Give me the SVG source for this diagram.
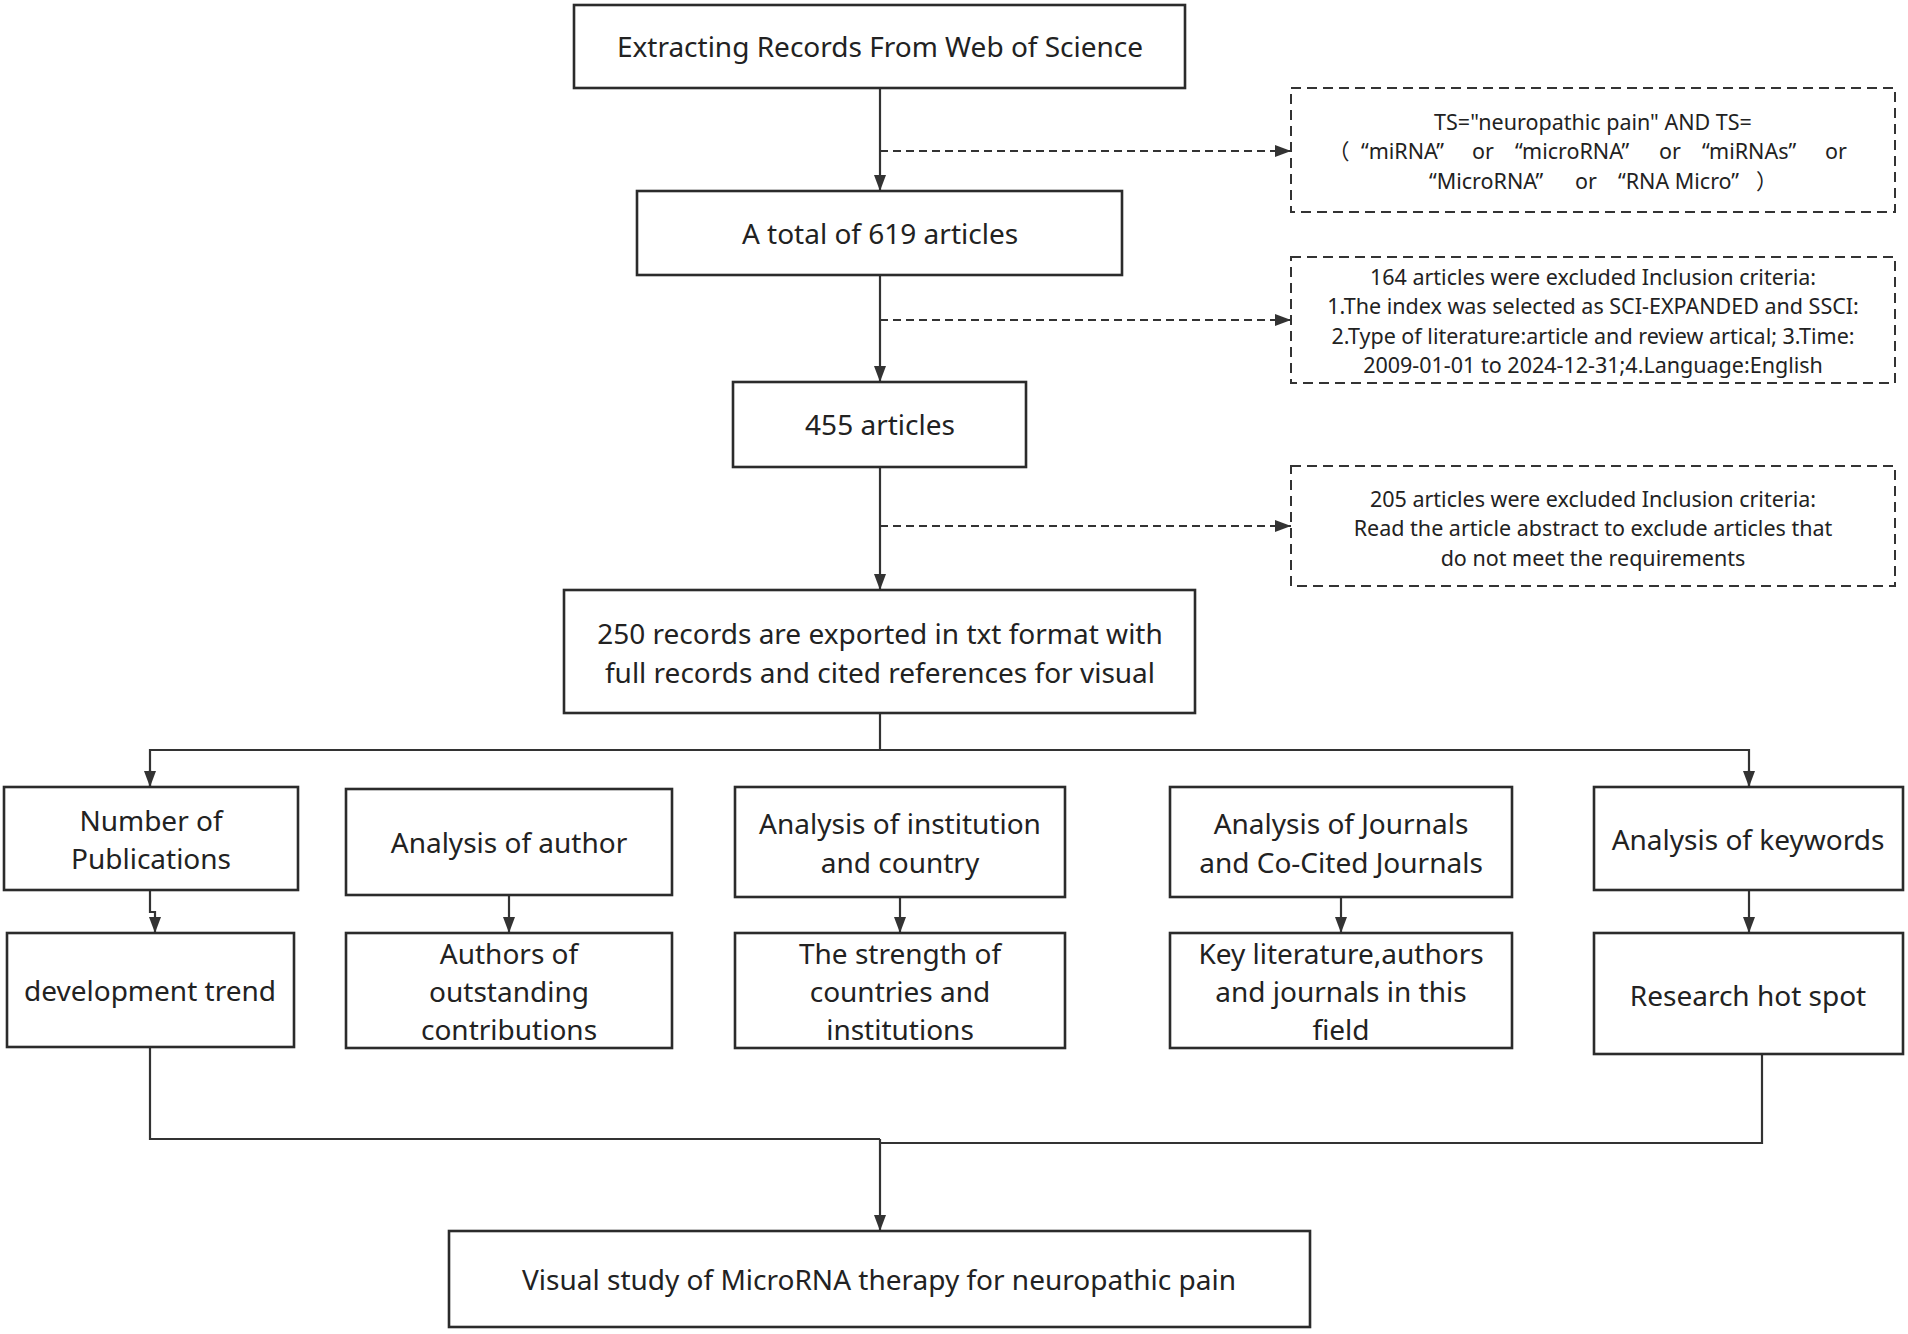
<svg xmlns="http://www.w3.org/2000/svg" width="1908" height="1334" viewBox="0 0 1908 1334">
<style>
.box{fill:#fff;stroke:#2b2b2b;stroke-width:2.6}
.dbox{fill:#fff;stroke:#333;stroke-width:2;stroke-dasharray:10 6}
.t{font-family:"Noto Sans","Open Sans","Liberation Sans",sans-serif;font-size:28px;fill:#222;text-anchor:middle;dominant-baseline:central}
.s{font-family:"Noto Sans","Open Sans","Liberation Sans","Noto Sans CJK SC",sans-serif;font-size:21.5px;fill:#222;text-anchor:middle;dominant-baseline:central}
.l{text-anchor:start}
.c{fill:none;stroke:#333;stroke-width:2.2}
.dc{fill:none;stroke:#333;stroke-width:2;stroke-dasharray:8 5}
</style>
<defs>
<marker id="ah" viewBox="0 0 16 12" refX="16" refY="6" markerWidth="16" markerHeight="12" markerUnits="userSpaceOnUse" orient="auto">
<path d="M0,0 L16,6 L0,12 Z" fill="#333"/>
</marker>
</defs>
<rect width="1908" height="1334" fill="#fff"/>
<g id="connectors">
<path class="c" d="M880,88 V191" marker-end="url(#ah)"/>
<path class="dc" d="M880,151 H1291" marker-end="url(#ah)"/>
<path class="c" d="M880,275 V382" marker-end="url(#ah)"/>
<path class="dc" d="M880,320 H1291" marker-end="url(#ah)"/>
<path class="c" d="M880,467 V590" marker-end="url(#ah)"/>
<path class="dc" d="M880,526 H1291" marker-end="url(#ah)"/>
<path class="c" d="M880,713 V750"/>
<path class="c" d="M150,787 V750 H1749 V787"/>
<path class="c" d="M150,770 V787" marker-end="url(#ah)"/>
<path class="c" d="M1749,770 V787" marker-end="url(#ah)"/>
<path class="c" d="M150,890 V912 H155 V933" marker-end="url(#ah)"/>
<path class="c" d="M509,895 V933" marker-end="url(#ah)"/>
<path class="c" d="M900,897 V933" marker-end="url(#ah)"/>
<path class="c" d="M1341,897 V933" marker-end="url(#ah)"/>
<path class="c" d="M1749,890 V933" marker-end="url(#ah)"/>
<path class="c" d="M150,1047 V1139 H880"/>
<path class="c" d="M1762,1054 V1143 H880"/>
<path class="c" d="M880,1139 V1231" marker-end="url(#ah)"/>
</g>
<g id="n1"><rect class="box" x="574" y="5" width="611" height="83"/><text class="t" x="880" y="46">Extracting Records From Web of Science</text></g>
<g id="d1"><rect class="dbox" x="1291" y="88" width="604" height="124"/>
<text class="s"><tspan x="1593" y="120.5">TS="neuropathic pain" AND TS=</tspan><tspan class="l" x="1328" y="150">（</tspan><tspan class="l" x="1361" y="150">“miRNA”</tspan><tspan class="l" x="1472" y="150">or</tspan><tspan class="l" x="1515" y="150">“microRNA”</tspan><tspan class="l" x="1659" y="150">or</tspan><tspan class="l" x="1702" y="150">“miRNAs”</tspan><tspan class="l" x="1825" y="150">or</tspan><tspan class="l" x="1429" y="179.5">“MicroRNA”</tspan><tspan class="l" x="1575" y="179.5">or</tspan><tspan class="l" x="1618" y="179.5">“RNA Micro”</tspan><tspan class="l" x="1756" y="179.5">）</tspan></text></g>
<g id="n2"><rect class="box" x="637" y="191" width="485" height="84"/><text class="t" x="880" y="233">A total of 619 articles</text></g>
<g id="d2"><rect class="dbox" x="1291" y="257" width="604" height="126"/>
<text class="s"><tspan x="1593" y="275.75">164 articles were excluded Inclusion criteria:</tspan><tspan x="1593" y="305.25">1.The index was selected as SCI-EXPANDED and SSCI:</tspan><tspan x="1593" y="334.75">2.Type of literature:article and review artical; 3.Time:</tspan><tspan x="1593" y="364.25">2009-01-01 to 2024-12-31;4.Language:English</tspan></text></g>
<g id="n3"><rect class="box" x="733" y="382" width="293" height="85"/><text class="t" x="880" y="424">455 articles</text></g>
<g id="d3"><rect class="dbox" x="1291" y="466" width="604" height="120"/>
<text class="s"><tspan x="1593" y="497.5">205 articles were excluded Inclusion criteria:</tspan><tspan x="1593" y="527">Read the article abstract to exclude articles that</tspan><tspan x="1593" y="556.5">do not meet the requirements</tspan></text></g>
<g id="n4"><rect class="box" x="564" y="590" width="631" height="123"/>
<text class="t"><tspan x="880" y="633.4">250 records are exported in txt format with</tspan><tspan x="880" y="671.6">full records and cited references for visual</tspan></text></g>
<g id="b1"><rect class="box" x="4" y="787" width="294" height="103"/>
<text class="t"><tspan x="151" y="819.9">Number of</tspan><tspan x="151" y="858.1">Publications</tspan></text></g>
<g id="b2"><rect class="box" x="346" y="789" width="326" height="106"/>
<text class="t" x="509" y="842">Analysis of author</text></g>
<g id="b3"><rect class="box" x="735" y="787" width="330" height="110"/>
<text class="t"><tspan x="900" y="823.4">Analysis of institution</tspan><tspan x="900" y="861.6">and country</tspan></text></g>
<g id="b4"><rect class="box" x="1170" y="787" width="342" height="110"/>
<text class="t"><tspan x="1341" y="823.4">Analysis of Journals</tspan><tspan x="1341" y="861.6">and Co-Cited Journals</tspan></text></g>
<g id="b5"><rect class="box" x="1594" y="787" width="309" height="103"/>
<text class="t" x="1748" y="839">Analysis of keywords</text></g>
<g id="c1"><rect class="box" x="7" y="933" width="287" height="114"/>
<text class="t" x="150" y="990">development trend</text></g>
<g id="c2"><rect class="box" x="346" y="933" width="326" height="115"/>
<text class="t"><tspan x="509" y="952.8">Authors of</tspan><tspan x="509" y="991">outstanding</tspan><tspan x="509" y="1029.2">contributions</tspan></text></g>
<g id="c3"><rect class="box" x="735" y="933" width="330" height="115"/>
<text class="t"><tspan x="900" y="952.8">The strength of</tspan><tspan x="900" y="991">countries and</tspan><tspan x="900" y="1029.2">institutions</tspan></text></g>
<g id="c4"><rect class="box" x="1170" y="933" width="342" height="115"/>
<text class="t"><tspan x="1341" y="952.8">Key literature,authors</tspan><tspan x="1341" y="991">and journals in this</tspan><tspan x="1341" y="1029.2">field</tspan></text></g>
<g id="c5"><rect class="box" x="1594" y="933" width="309" height="121"/>
<text class="t" x="1748" y="995">Research hot spot</text></g>
<g id="n5"><rect class="box" x="449" y="1231" width="861" height="96"/>
<text class="t" x="879" y="1279">Visual study of MicroRNA therapy for neuropathic pain</text></g>
</svg>
